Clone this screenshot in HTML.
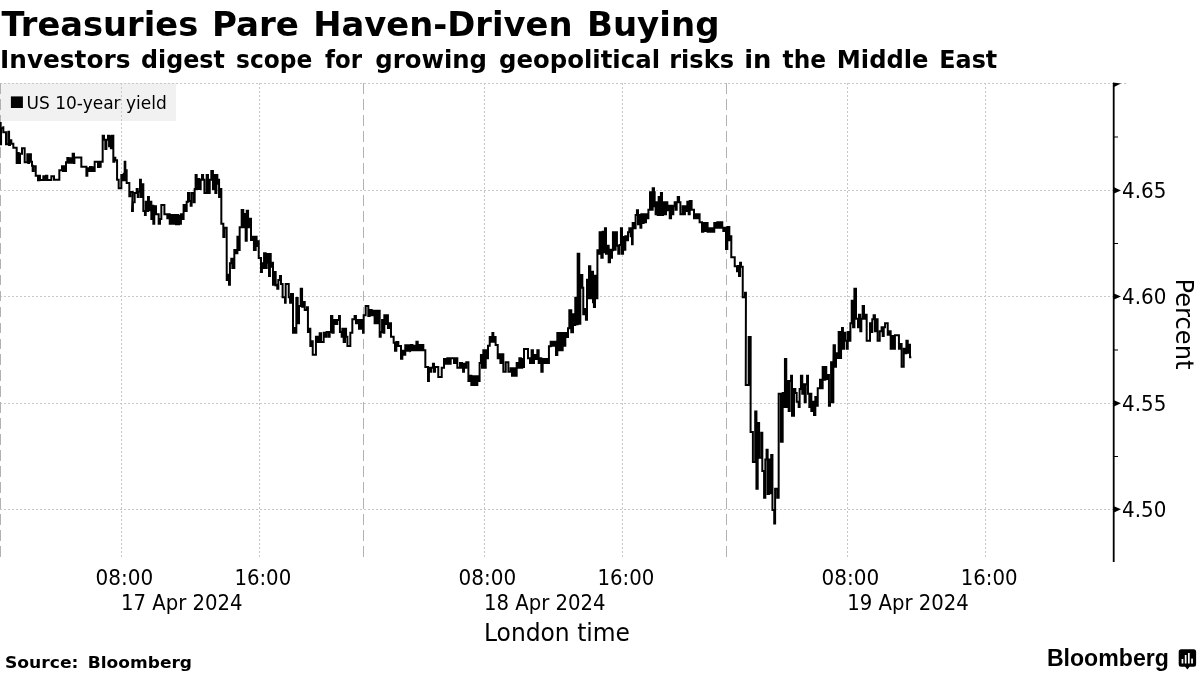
<!DOCTYPE html>
<html lang="en">
<head>
<meta charset="utf-8">
<title>Treasuries Pare Haven-Driven Buying</title>
<style>
html,body{margin:0;padding:0;background:#fff;}
body{width:1200px;height:675px;overflow:hidden;position:relative;}
svg{position:absolute;left:0;top:0;display:block;}
.t{font-family:"DejaVu Sans","Liberation Sans",sans-serif;font-weight:bold;fill:#000;}
.c{font-family:"DejaVu Sans Condensed","DejaVu Sans","Liberation Sans",sans-serif;fill:#000;}
.g{stroke:#c8c8c8;stroke-width:1;stroke-dasharray:2.4 1.6;fill:none;shape-rendering:crispEdges;}
.d{stroke:#b2b2b2;stroke-width:1;stroke-dasharray:10.7 5.25;fill:none;shape-rendering:crispEdges;}
</style>
</head>
<body>
<svg width="1200" height="675" viewBox="0 0 1200 675">
<rect width="1200" height="675" fill="#fff"/>
<!-- titles -->
<text class="t" y="36.2" font-size="33"><tspan x="1.5" textLength="196.75" lengthAdjust="spacingAndGlyphs">Treasuries</tspan> <tspan x="212" textLength="87" lengthAdjust="spacingAndGlyphs">Pare</tspan> <tspan x="313.25" textLength="259.25" lengthAdjust="spacingAndGlyphs">Haven-Driven</tspan> <tspan x="587" textLength="132.5" lengthAdjust="spacingAndGlyphs">Buying</tspan></text>
<text class="t" y="68.4" font-size="24.4"><tspan x="0" textLength="130.5" lengthAdjust="spacingAndGlyphs">Investors</tspan> <tspan x="141" textLength="83.75" lengthAdjust="spacingAndGlyphs">digest</tspan> <tspan x="236" textLength="76.25" lengthAdjust="spacingAndGlyphs">scope</tspan> <tspan x="325" textLength="37" lengthAdjust="spacingAndGlyphs">for</tspan> <tspan x="375.25" textLength="111.75" lengthAdjust="spacingAndGlyphs">growing</tspan> <tspan x="499" textLength="161" lengthAdjust="spacingAndGlyphs">geopolitical</tspan> <tspan x="669.25" textLength="64.75" lengthAdjust="spacingAndGlyphs">risks</tspan> <tspan x="744.25" textLength="27.25" lengthAdjust="spacingAndGlyphs">in</tspan> <tspan x="782.5" textLength="43.5" lengthAdjust="spacingAndGlyphs">the</tspan> <tspan x="836.75" textLength="91.75" lengthAdjust="spacingAndGlyphs">Middle</tspan> <tspan x="939.25" textLength="58" lengthAdjust="spacingAndGlyphs">East</tspan></text>
<!-- legend -->
<rect x="0" y="83" width="176" height="38" fill="#f1f1f1"/>
<!-- grid -->
<g class="g">
<line x1="0" y1="83.5" x2="1127" y2="83.5"/>
<line x1="0" y1="190.5" x2="1113" y2="190.5"/>
<line x1="0" y1="296.5" x2="1113" y2="296.5"/>
<line x1="0" y1="403.5" x2="1113" y2="403.5"/>
<line x1="0" y1="509.5" x2="1113" y2="509.5"/>
<line x1="121.5" y1="83" x2="121.5" y2="559"/>
<line x1="259.5" y1="83" x2="259.5" y2="559"/>
<line x1="484.5" y1="83" x2="484.5" y2="559"/>
<line x1="622.5" y1="83" x2="622.5" y2="559"/>
<line x1="847.5" y1="83" x2="847.5" y2="559"/>
<line x1="985.5" y1="83" x2="985.5" y2="559"/>
</g>
<g class="d">
<line x1="0.5" y1="83.3" x2="0.5" y2="559"/>
<line x1="363.5" y1="83.3" x2="363.5" y2="559"/>
<line x1="726.5" y1="83.3" x2="726.5" y2="559"/>
</g>
<rect x="10.9" y="96.4" width="12" height="11.6" fill="#000"/>
<text class="c" x="26.6" y="108.8" font-size="17.4" textLength="140.2" lengthAdjust="spacingAndGlyphs">US 10-year yield</text>
<!-- data line -->
<path d="M0,123 L0.67,123 L0.67,144.33 L1.07,144.33 L1.07,128.33 L3.33,128.33 L3.33,126.33 L3.33,132.33 L6,132.33 L6,144.33 L8.27,144.33 L8.27,131.67 L9.07,131.67 L9.07,145 L10,145 L10,140.33 L11.33,140.33 L11.33,143.67 L13.33,143.67 L13.33,147.67 L16.67,147.67 L16.67,163 L17.6,163 L17.6,153 L18.67,153 L18.67,163 L20,163 L20,153.67 L22,153.67 L22,148.33 L24.67,148.33 L24.67,162.33 L27.33,162.33 L27.33,154.33 L28.27,154.33 L28.27,163 L29.07,163 L29.07,154.33 L30.93,154.33 L30.93,161.67 L32,161.67 L32,165.67 L32.67,165.67 L32.67,171 L33.6,171 L33.6,166.33 L35.73,166.33 L35.73,175.67 L38,175.67 L38,180.33 L39.33,180.33 L39.33,175.67 L40,175.67 L40,180.07 L43.33,180.07 L43.33,176.33 L44.67,176.33 L44.67,180.07 L46,180.07 L46,175.67 L47.33,175.67 L47.33,180.07 L51.33,180.07 L51.33,176.33 L54,176.33 L54,179.67 L59.33,179.67 L59.33,170.33 L62,170.33 L62,166.33 L62.93,166.33 L62.93,171 L64,171 L64,166.33 L65.33,166.33 L65.33,171 L66,171 L66,162.33 L67.33,162.33 L67.33,157.93 L68.27,157.93 L68.27,162.73 L69.33,162.73 L69.33,158.33 L70.67,158.33 L70.67,162.73 L72.67,162.73 L72.67,153.67 L74,153.67 L74,163 L74.4,163 L74.4,157.4 L81.33,157.4 L81.33,166.73 L86.4,166.73 L86.4,175.67 L87.33,175.67 L87.33,168.33 L89.07,168.33 L89.07,171 L90,171 L90,167 L91.33,167 L91.33,171 L92.67,171 L92.67,167.27 L94,167.27 L94,171 L94.67,171 L94.67,161.67 L98,161.67 L98,167 L98.93,167 L98.93,161.67 L100,161.67 L100,166.73 L100.67,166.73 L100.67,161.67 L102.67,161.67 L102.67,135.67 L104,135.67 L104,139.67 L105.33,139.67 L105.33,149 L106.4,149 L106.4,139.67 L108,139.67 L108,135.67 L109.07,135.67 L109.07,146.33 L110,146.33 L110,136.33 L110.93,136.33 L110.93,148.33 L111.73,148.33 L111.73,135.67 L113.33,135.67 L113.33,161.67 L114.4,161.67 L114.4,157.67 L115.33,157.67 L115.33,160.33 L117.07,160.33 L117.07,179.67 L118.67,179.67 L118.67,188.33 L121.33,188.33 L121.33,175 L122.67,175 L122.67,180.33 L123.73,180.33 L123.73,173.67 L124.67,173.67 L124.67,161.67 L125.33,161.67 L125.33,180.33 L126,180.33 L126,170.33 L126.67,170.33 L126.67,183 L129.33,183 L129.33,196.33 L130.4,196.33 L130.4,192.07 L132.67,192.07 L132,211 L132.93,211 L132.93,202.33 L134.67,202.33 L134.67,193 L136.67,193 L136.67,189 L137.73,189 L137.73,197 L138.67,197 L138.67,191.67 L140,191.67 L140,179.67 L140.93,179.67 L140.93,197 L142,197 L142,184.33 L143.33,184.33 L143.33,211 L144.93,211 L144.93,215 L145.73,215 L145.73,201.67 L147.07,201.67 L147.07,211 L148,211 L148,197 L148.93,197 L148.93,210.33 L150,210.33 L150,201.67 L151.33,201.67 L151.33,219 L152.4,219 L152.4,205.67 L153.33,205.67 L153.33,223.67 L154.27,223.67 L154.27,206.33 L156,206.33 L156,214.33 L158.67,214.33 L158.67,223.67 L160,223.67 L160,219 L161.33,219 L161.33,205 L164.4,205 L164.4,214.33 L167.33,214.33 L167.33,218.33 L168.67,218.33 L168.67,214.33 L169.73,214.33 L169.73,223.67 L171.33,223.67 L171.33,215 L172.67,215 L172.67,223.67 L174,223.67 L174,215 L176,215 L176,224.33 L176.93,224.33 L176.93,215 L178,215 L178,224.33 L179.07,224.33 L179.07,215.67 L180,215.67 L180,223.67 L180.93,223.67 L180.93,214.33 L182.67,214.33 L182.67,219 L183.6,219 L183.6,205 L185.33,205 L185.33,211 L186.67,211 L186.67,201.67 L188,201.67 L188,193 L189.33,193 L189.33,201 L190.67,201 L190.67,205.67 L191.6,205.67 L191.6,193 L193.73,193 L193.73,202.33 L194.67,202.33 L194.67,189 L195.6,189 L195.6,175 L196.67,175 L196.67,189 L198,189 L198,179 L199.33,179 L199.33,189 L200.67,189 L200.67,179.67 L202,179.67 L202,175 L203.07,175 L203.07,179.67 L204.4,179.67 L204.4,193 L206.67,193 L206.67,175 L208,175 L208,193 L209.73,193 L209.73,179.67 L211.33,179.67 L211.33,171 L212.93,171 L212.93,189 L214,189 L214,175 L215.33,175 L215.33,193 L216.4,193 L216.4,175 L217.33,175 L217.33,183.67 L218.27,183.67 L218.27,179.67 L219.07,179.67 L219.07,197 L220.4,197 L220.4,189 L221.33,189 L221.33,223.67 L223.33,223.67 L223.33,237 L224.4,237 L224.4,227.67 L226.67,227.67 L226.73,280 L227.67,280 L227.67,274.67 L229,274.67 L229,284.67 L229.93,284.67 L229.93,263.33 L231.27,263.33 L231.27,258.67 L232.33,258.67 L232.33,268 L234.33,268 L234.33,250 L236.33,250 L236.33,253.33 L237.4,253.33 L237.4,236.67 L239,236.67 L239,250 L239.67,250 L239.67,227.33 L241.67,227.33 L241.67,210 L243.27,210 L243.27,227.33 L244.6,227.33 L244.6,214 L245.67,214 L245.67,240.67 L246.73,240.67 L246.73,210.67 L248.07,210.67 L248.07,227.33 L249.93,227.33 L249.93,218.67 L251,218.67 L251,240 L253,240 L253,236.67 L253.93,236.67 L253.93,250 L255.67,250 L255.67,236.67 L256.6,236.67 L256.6,246 L257.67,246 L257.67,241.33 L258.73,241.33 L258.73,258 L261,258 L261,272 L261.93,272 L261.93,263.33 L263,263.33 L263,268 L264.07,268 L264.07,253.33 L265.67,253.33 L265.67,268 L266.73,268 L266.73,254 L268.07,254 L268.07,262.67 L269,262.67 L269,276 L269.93,276 L269.93,254 L270.73,254 L270.73,266.67 L272.07,266.67 L272.07,262.67 L273,262.67 L273,284.67 L274.33,284.67 L274.33,272 L275.67,272 L275.67,285.33 L277.27,284.67 L277.27,288.67 L278.33,288.67 L278.33,280 L279.93,280 L279.93,276 L281,276 L281,284 L282.6,284 L282.6,297.33 L285,297.33 L285,302.67 L285.67,302.67 L285.67,284 L288.73,284 L288.73,297.33 L290.07,297.33 L290.07,302.67 L291,302.67 L291,294 L293,294 L293,332.67 L294.07,332.67 L294.07,328 L295,328 L295,332.67 L296.33,332.67 L296.33,298 L297.67,298 L297.67,323.33 L299,323.33 L299,306 L300.73,306 L300.73,288.67 L302.07,288.67 L302.07,306.67 L303,306.67 L303,302 L304.73,302 L304.73,310 L307,310 L307,307.33 L307.93,307.33 L307.93,332 L309.67,332 L309.67,328.67 L310.33,328.67 L310.33,346 L311.67,346 L311.67,341.33 L312.73,341.33 L312.73,354.67 L315.93,354.67 L315.93,336.67 L317.67,336.67 L317.67,342 L319.67,342 L319.67,333.33 L321,333.33 L321,342 L323.67,342 L323.67,332.67 L325.67,332.67 L325.67,336.67 L326.6,336.67 L326.6,332 L328.73,332 L328.73,336.67 L329.67,336.67 L329.67,332 L331,332 L331,316 L332.33,316 L332.33,332.67 L333.67,332.67 L333.67,320 L335.67,320 L335.67,324 L337.27,324 L337.27,320 L339,320 L339,316 L339.93,316 L339.93,332 L341.67,332 L341.67,336.67 L342.33,336.67 L342.33,328.67 L343.67,328.67 L343.67,342 L345,342 L345,328.67 L346.07,328.67 L346.07,336.67 L347.4,336.67 L347.4,346 L350.33,346 L350.33,332.67 L352.33,332.67 L352.33,319.33 L354.6,319.33 L354.6,316 L355.93,316 L355.93,323.33 L357.67,323.33 L357.67,320 L359,320 L359,328.67 L360.73,328.67 L360.73,320 L361.67,320 L361.67,328.67 L363,328.67 L363,332.67 L363.67,332.67 L363.67,315.33 L365.67,315.33 L365.67,306 L368.33,306 L368.33,316 L369.67,316 L369.67,310 L371.67,310 L371.67,315.33 L373.27,315.33 L373.27,310.67 L374.6,310.67 L374.6,323.33 L376.33,323.33 L376.33,310.67 L377.27,310.67 L377.27,323.33 L378.33,323.33 L378.33,310.67 L379.67,310.67 L379.67,336.67 L380.73,336.67 L380.73,332 L382.07,332 L382.07,320 L383.4,320 L383.4,332.67 L384.33,332.67 L384.33,315.33 L385.67,315.33 L385.67,324 L387,324 L387,315.33 L387.93,315.33 L387.93,328 L389.67,328 L389.67,323.33 L391,323.33 L391,336.67 L393.67,336.67 L393.67,342.67 L395,342.67 L395,350.67 L396.33,350.67 L396.33,342 L398.33,342 L398.33,346 L401,346 L401,358.67 L402.33,358.67 L402.33,350.67 L403.67,350.67 L403.67,354.67 L405.27,354.67 L405.27,345.33 L407,345.33 L407,350.67 L408.73,350.67 L408.73,345.33 L410.6,345.33 L410.6,350.67 L411.07,350.33 L411.07,345 L412.4,345 L412.4,350.33 L413.73,350.33 L413.73,345.67 L415.07,345.67 L415.07,350.33 L416.4,350.33 L416.4,341.67 L417.73,341.67 L417.73,350.33 L419.07,350.33 L419.07,345 L420.4,345 L420.4,350.33 L421.73,350.33 L421.73,345 L423.33,345 L423.33,350.33 L425.33,350.33 L425.33,367 L428,367 L428,381 L428.93,381 L428.93,367.67 L430.27,367.67 L430.27,371.67 L431.33,371.67 L431.33,367.67 L432.93,367.67 L432.93,363.67 L434,363.67 L434,371.67 L435.07,371.67 L435.07,367 L438.27,367 L438.27,377 L441.73,377 L441.73,367.67 L444,367.67 L444,359 L445.73,359 L445.73,363.67 L447.33,363.67 L447.33,358.33 L449.33,358.33 L449.33,363.67 L450.67,363.67 L450.67,358.33 L454,358.33 L454,363 L455.33,363 L455.33,358.33 L457.33,358.33 L457.33,367.67 L460,367.67 L460,363 L462,363 L462,367.67 L463.07,367.67 L463.07,371.67 L464,371.67 L464,363.67 L465.33,363.67 L465.33,367.67 L466.27,367.67 L466.27,362.33 L468.4,362.33 L468.4,381 L469.33,381 L469.33,375.67 L471.33,375.67 L471.33,385 L472.67,385 L472.67,376.33 L474,376.33 L474,385 L475.33,385 L475.33,376.33 L476.4,376.33 L476.4,385 L477.33,385 L477.33,376.33 L478.67,376.33 L478.67,381 L479.6,381 L479.6,363 L480.93,363 L480.93,355 L482,355 L482,367.67 L483.33,367.67 L483.33,350.33 L484.67,350.33 L484.67,367.67 L485.73,367.67 L485.73,350.33 L487.07,350.33 L487.07,358.33 L488,358.33 L488,345.67 L489.73,345.67 L489.73,337 L491.33,337 L491.33,341.67 L492.4,341.67 L492.4,333 L493.33,333 L493.33,341.67 L494.27,341.67 L494.27,337 L495.6,337 L495.6,345 L497.73,345 L497.73,358.33 L499.07,358.33 L499.07,354.33 L500.4,354.33 L500.4,363 L502,363 L502,354.33 L503.33,354.33 L503.33,371.67 L505.73,371.67 L505.73,362.33 L508.4,362.33 L508.4,371.67 L510.67,371.67 L510.67,368.33 L512,368.33 L512,375.67 L513.33,375.67 L513.33,368.33 L514.67,368.33 L514.67,375.67 L516.67,375.67 L516.67,363 L518.27,363 L518.27,367.67 L519.33,367.67 L519.33,358.33 L520.93,358.33 L520.93,367.67 L522.27,367.67 L522.27,359 L523.33,359 L523.33,367 L524,367 L524,349 L528,349 L528,358.33 L530,358.33 L530,363 L531.6,363 L531.6,350.33 L532.93,350.33 L532.93,363 L534,363 L534,355 L536,355 L536,359 L537.33,359 L537.33,350.33 L538.67,350.33 L538.67,363 L539.6,363 L539.6,358.33 L541.33,358.33 L541.33,371.67 L542.67,371.67 L542.67,359 L544,359 L544,363 L546,363 L546,359 L547.33,359 L547.33,363 L548.93,363 L548.93,346.33 L550.67,346.33 L550.67,341.67 L552,341.67 L552,345.67 L554,345.67 L554,341.67 L556,341.67 L556,355 L557.33,355 L557.33,333 L558.67,333 L558.67,350.33 L560,350.33 L560,333 L561.33,333 L561.33,350.33 L562.67,350.33 L562.67,333 L564,333 L564,345.67 L565.33,345.67 L565.33,333 L566.67,333 L566.67,337 L568,337 L568,328.33 L569.33,328.33 L569.33,327.67 L569.33,310.33 L571.27,310.33 L571.27,332.33 L573,332.33 L573,314.33 L574.33,314.33 L574.33,325 L575.27,325 L575.27,297.67 L576.6,297.67 L576.6,324.33 L577.67,324.33 L577.67,253.67 L579.27,253.67 L579.27,323.67 L580.33,323.67 L580.33,275 L582.33,275 L582.33,287.67 L583.27,287.67 L583.27,314.33 L585,314.33 L585,309 L585.93,309 L585.93,319.67 L587,319.67 L587,279.67 L588.33,279.67 L588.33,298.33 L589,298.33 L589,266.33 L590.33,266.33 L590.33,298.33 L591.67,298.33 L591.67,271.67 L593,271.67 L593,302.33 L593.93,302.33 L593.93,307 L595,307 L595,275.67 L596.33,275.67 L596.33,298.33 L597.4,298.33 L597.4,250.33 L598.67,250.33 L598.67,253.67 L599.6,253.67 L599.6,232.33 L601.33,232.33 L601.33,257.67 L602.67,257.67 L602.67,231.67 L604,231.67 L604,252.33 L604.93,252.33 L604.93,228.33 L606,228.33 L606,253.67 L607.6,253.67 L607.6,245.67 L608.67,245.67 L608.67,262.33 L610,262.33 L610,249.67 L611.07,249.67 L611.07,257.67 L612,257.67 L612,250.33 L612.93,250.33 L612.93,232.33 L614.27,232.33 L614.27,249.67 L615.6,249.67 L615.6,232.33 L616.93,232.33 L616.93,245.67 L618.27,245.67 L618.27,253.67 L619.6,253.67 L619.6,245 L620.93,245 L620.93,228.33 L622,228.33 L622,253.67 L623.07,253.67 L623.07,237 L624.4,237 L624.4,249.67 L625.33,249.67 L625.33,236.33 L626.67,236.33 L626.67,240.33 L628,240.33 L628,232.33 L629.33,232.33 L629.33,228.33 L630.67,228.33 L630.67,236.33 L632,236.33 L632,244.33 L632.67,244.33 L632.67,223 L634.67,223 L634.67,228.33 L635.6,228.33 L635.6,215 L636.93,215 L636.93,210.33 L638,210.33 L638,224.33 L639.33,224.33 L639.33,215 L640.4,215 L640.4,227.67 L641.33,227.67 L641.33,214.33 L642.67,214.33 L642.67,223 L643.6,223 L643.6,214.33 L644.93,214.33 L644.93,222.33 L646,222.33 L646,214.33 L647.33,214.33 L647.33,218.33 L648.4,218.33 L648.4,209.67 L650,209.67 L650,192.33 L651.6,192.33 L651.6,209.67 L652.67,209.67 L652.67,188.33 L654,188.33 L654,192.33 L654.67,192.33 L654.67,206.33 L655.6,206.33 L655.6,214.33 L656.67,214.33 L656.67,202.33 L657.73,202.33 L657.73,215 L658.67,215 L658.67,197 L660,197 L660,215 L660.93,215 L660.93,193 L662,193 L662,215 L663.07,215 L663.07,210.33 L664,210.33 L664,202.33 L664.93,202.33 L664.93,214.33 L666,214.33 L666,202.33 L667.33,202.33 L667.33,210.33 L668.67,210.33 L668.67,205.67 L669.73,205.67 L669.73,218.33 L671.07,218.33 L671.07,205.67 L672.4,205.67 L672.4,214.33 L673.33,214.33 L673.33,206.33 L674.67,206.33 L674.67,202.33 L675.6,202.33 L675.6,209.67 L676.67,209.67 L676.67,202.33 L677.73,202.33 L677.73,197 L679.07,197 L679.07,202.33 L680.4,202.33 L680.4,214.33 L682.67,214.33 L682.67,206.33 L684,206.33 L684,214.33 L684.93,214.33 L684.93,206.33 L686.27,206.33 L686.27,211 L687.33,211 L687.33,201.67 L688.67,201.67 L688.67,214.33 L689.73,214.33 L689.73,201 L691.6,201 L691.6,209.67 L694,209.67 L694,218.33 L695.33,218.33 L695.33,214.33 L697.33,214.33 L697.33,218.33 L698.27,218.33 L698.27,214.33 L699.6,214.33 L699.6,222.33 L702,222.33 L702,231.67 L703.33,231.67 L703.33,223 L704.93,223 L704.93,231 L706,231 L706,223 L707.6,223 L707.6,231.67 L709.33,231.67 L709.33,228.33 L710.67,228.33 L710.67,231.67 L712,231.67 L712,228.33 L713.33,228.33 L713.33,231.67 L714.27,231.67 L714.27,223 L716,223 L716,227.67 L717.33,227.67 L717.33,222.33 L719.07,222.33 L719.07,227.67 L720.4,227.67 L720.4,222.33 L722.27,222.33 L722.27,227.67 L723.33,227.67 L723.33,231 L724.67,231 L724.67,227.67 L726,227.67 L726,249 L727.33,249 L727.33,227 L729.33,227 L729.33,240.33 L730,240.33 L730,236.33 L731.33,236.33 L731.27,257.33 L734.73,257.33 L734.73,266.27 L737,266.27 L737,271.33 L737.93,271.33 L737.93,266 L739,266 L739,276 L740.07,276 L740.07,262.67 L741,262.67 L741,266.67 L742.73,266.67 L742.73,297.33 L745,297.33 L745,292.67 L745.93,292.67 L745.73,385 L748.67,385 L748.67,337 L750.67,337 L750.58,431.89 L752.89,431.89 L752.89,462.11 L755.2,462.11 L755.2,411.44 L756.44,411.44 L756.44,488.78 L757.69,488.78 L757.69,423 L759.11,423 L759.11,457.67 L761.24,457.67 L761.24,432.78 L762.31,432.78 L762.31,471 L764.09,471 L764.09,497.67 L765.33,497.67 L765.33,459.44 L766.58,459.44 L766.58,449.67 L767.64,449.67 L767.64,494.11 L768.89,494.11 L768.89,459.44 L770.13,459.44 L770.13,493.22 L771.2,493.22 L771.2,455 L772.44,455 L772.44,510.11 L774.22,510.11 L774.22,523.44 L775.11,523.44 L775.11,488.78 L777.24,488.78 L777.24,497.67 L778.31,497.67 L778.67,497.67 L778.67,393.67 L780.93,393.67 L780.93,441.67 L782.67,441.67 L782.67,393 L784,393 L784,407 L784.93,407 L784.93,359 L786.27,359 L786.27,407 L787.33,407 L787.33,381 L788.67,381 L788.67,411 L789.73,411 L789.73,381 L791.07,381 L791.07,375.67 L792,375.67 L792,415.67 L794,415.67 L794,389 L795.33,389 L795.33,393 L796.67,393 L796.67,401.67 L798.67,401.67 L798.67,407 L799.6,407 L799.6,389 L800.93,389 L800.93,375.67 L802.27,375.67 L802.27,393.67 L803.33,393.67 L803.33,384.33 L804.67,384.33 L804.67,402.33 L805.73,402.33 L805.73,384.33 L807.07,384.33 L807.07,375.67 L808,375.67 L808,393.67 L809.33,393.67 L809.33,407 L810.27,407 L810.27,393.67 L811.33,393.67 L811.33,411 L812.67,411 L812.67,401.67 L814,401.67 L814,415 L815.33,415 L815.33,397 L816.67,397 L816.67,405.67 L817.73,405.67 L817.73,388.33 L820,388.33 L820,379.67 L821.73,379.67 L821.73,388.33 L822.67,388.33 L822.67,367 L824,367 L824,379.67 L825.33,379.67 L825.33,367 L826.27,367 L826.27,379 L828,379 L828,375 L828.93,375 L828.93,405.67 L830,405.67 L830,402.33 L831.07,402.33 L831.07,362.33 L832.4,362.33 L832.4,402.33 L833.33,402.33 L833.33,371 L833.6,345.33 L834.93,345.33 L834.93,366.67 L836,366.67 L836,353.33 L837.6,353.33 L837.6,358 L838.67,358 L838.67,332 L840,332 L840,358 L841.07,358 L841.07,332.67 L842,332.67 L842,328 L842.93,328 L842.93,348.67 L844,348.67 L844,332.67 L845.33,332.67 L845.33,340.67 L846.67,340.67 L846.67,348.67 L847.73,348.67 L847.73,332 L849.07,332 L849.07,340.67 L850.4,340.67 L850.4,323.33 L851.73,323.33 L851.73,300.67 L853.07,300.67 L853.07,327.33 L854.4,327.33 L854.4,288.67 L856,288.67 L856,318.67 L858,318.67 L858,327.33 L858.93,327.33 L858.93,314.67 L860.27,314.67 L860.27,331.33 L861.33,331.33 L861.33,318.67 L862.67,318.67 L862.67,306 L864,306 L864,318.67 L865.33,318.67 L865.33,314.67 L866.67,314.67 L866.67,340.67 L870,340.67 L870,323.33 L871.33,323.33 L871.33,332 L872.27,332 L872.27,319.33 L873.6,319.33 L873.6,315.33 L874.93,315.33 L874.93,331.33 L876,331.33 L876,319.33 L877.6,319.33 L877.6,340.67 L879.73,340.67 L879.73,331.33 L881.6,331.33 L881.6,327.33 L882.67,327.33 L882.67,336 L883.73,336 L883.73,327.33 L885.07,327.33 L885.07,323.33 L887.73,323.33 L887.73,334.67 L888.67,334.67 L888.67,331.33 L890.67,331.33 L890.67,348.67 L892.67,348.67 L892.67,336 L894,336 L894,348.67 L894.93,348.67 L894.93,335.33 L898.93,335.33 L898.93,348.67 L899.73,348.67 L899.73,344 L901.6,344 L901.6,366.67 L903.73,366.67 L903.73,348.67 L905.33,348.67 L905.33,353.33 L906.4,353.33 L906.4,340.67 L907.73,340.67 L907.73,352.67 L908.67,352.67 L908.67,344.67 L910,344.67 L910,357.33 L911.33,357.33" fill="none" stroke="#000" stroke-width="2" stroke-linejoin="miter" stroke-linecap="butt"/>
<!-- right axis -->
<line x1="1113.7" y1="83" x2="1113.7" y2="562" stroke="#000" stroke-width="1.8"/>
<path d="M1113,82.6 L1121,83.6 L1113,87.5 Z" fill="#000"/>
<g fill="#000">
<path d="M1114,187.3 L1121,190.4 L1114,193.5 Z"/>
<path d="M1114,293.4 L1121,296.5 L1114,299.6 Z"/>
<path d="M1114,400.2 L1121,403.3 L1114,406.4 Z"/>
<path d="M1114,506.2 L1121,509.3 L1114,512.4 Z"/>
</g>
<g stroke="#000" stroke-width="1">
<line x1="1114" y1="137" x2="1118" y2="137"/>
<line x1="1114" y1="243.5" x2="1118" y2="243.5"/>
<line x1="1114" y1="350" x2="1118" y2="350"/>
<line x1="1114" y1="456.5" x2="1118" y2="456.5"/>
</g>
<g class="c" font-size="21">
<text x="1122" y="198" textLength="44.3" lengthAdjust="spacingAndGlyphs">4.65</text>
<text x="1122" y="304.2" textLength="44.3" lengthAdjust="spacingAndGlyphs">4.60</text>
<text x="1122" y="411" textLength="44.3" lengthAdjust="spacingAndGlyphs">4.55</text>
<text x="1122" y="517" textLength="44.3" lengthAdjust="spacingAndGlyphs">4.50</text>
</g>
<text class="c" font-size="24.5" transform="translate(1175.8,278.5) rotate(90)" textLength="91" lengthAdjust="spacingAndGlyphs">Percent</text>
<!-- x labels -->
<g class="c" font-size="21.4">
<text x="95.6" y="585" textLength="57.6" lengthAdjust="spacingAndGlyphs">08:00</text>
<text x="234.4" y="585" textLength="56.8" lengthAdjust="spacingAndGlyphs">16:00</text>
<text x="458.6" y="585" textLength="57.6" lengthAdjust="spacingAndGlyphs">08:00</text>
<text x="597.5" y="585" textLength="56.8" lengthAdjust="spacingAndGlyphs">16:00</text>
<text x="821.5" y="585" textLength="57.6" lengthAdjust="spacingAndGlyphs">08:00</text>
<text x="960.7" y="585" textLength="56.8" lengthAdjust="spacingAndGlyphs">16:00</text>
<text x="121" y="610" textLength="121.5" lengthAdjust="spacingAndGlyphs">17 Apr 2024</text>
<text x="484.1" y="610" textLength="121.5" lengthAdjust="spacingAndGlyphs">18 Apr 2024</text>
<text x="847.3" y="610" textLength="121.5" lengthAdjust="spacingAndGlyphs">19 Apr 2024</text>
</g>
<text class="c" x="484" y="640.5" font-size="24.5" textLength="146" lengthAdjust="spacingAndGlyphs">London time</text>
<!-- footer -->
<text class="t" y="667.5" font-size="16.6"><tspan x="4.9" textLength="73.5" lengthAdjust="spacingAndGlyphs">Source:</tspan> <tspan x="87.8" textLength="104.2" lengthAdjust="spacingAndGlyphs">Bloomberg</tspan></text>
<text x="1046.9" y="666.2" font-family="'Liberation Sans',sans-serif" font-weight="bold" font-size="24.3" fill="#000" textLength="122" lengthAdjust="spacingAndGlyphs">Bloomberg</text>
<!-- bloomberg icon -->
<g>
<path d="M1181.2,649.3 h12.4 a2.5,2.5 0 0 1 2.5,2.5 v12.4 a2.5,2.5 0 0 1 -2.5,2.5 h-4 l-2.2,2.8 l-2.2,-2.8 h-4 a2.5,2.5 0 0 1 -2.5,-2.5 v-12.4 a2.5,2.5 0 0 1 2.5,-2.5 z" fill="#000"/>
<rect x="1181.6" y="659" width="1.7" height="4.5" fill="#fff"/>
<rect x="1184.8" y="655" width="1.7" height="8.5" fill="#fff"/>
<rect x="1188" y="653" width="1.7" height="10.5" fill="#fff"/>
<rect x="1191.2" y="658.6" width="1.7" height="4.9" fill="#fff"/>
</g>
</svg>
</body>
</html>
